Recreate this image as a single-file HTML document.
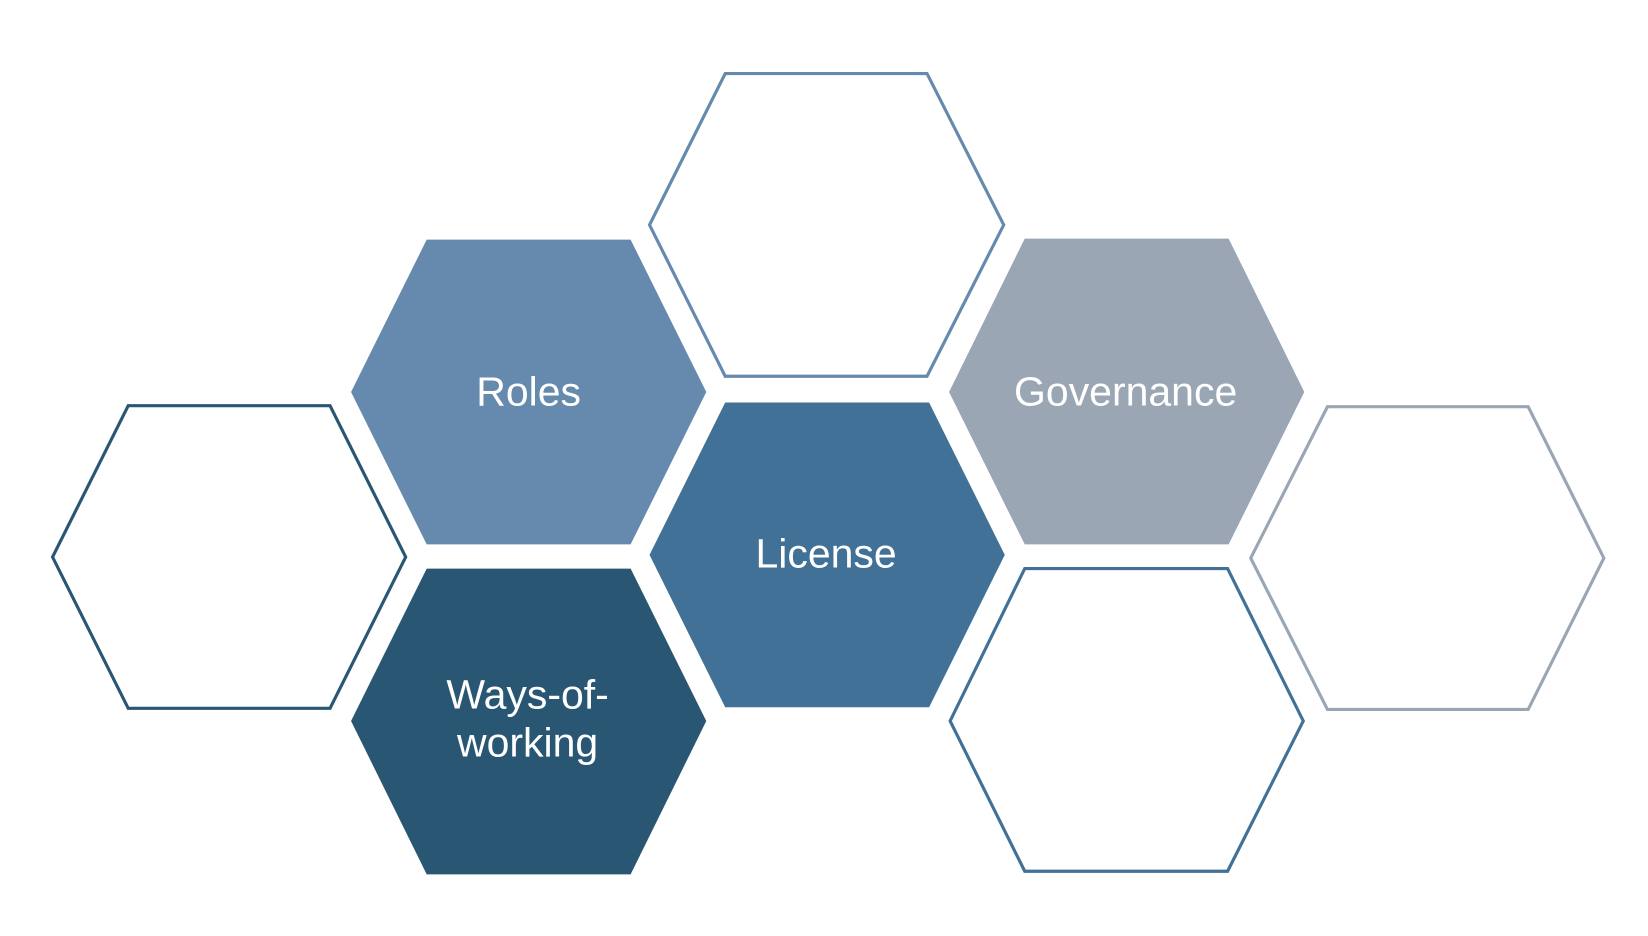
<!DOCTYPE html>
<html><head><meta charset="utf-8"><style>html,body{margin:0;padding:0;background:#fff;}svg{display:block}</style></head>
<body>
<svg width="1648" height="936" viewBox="0 0 1568 890.6" preserveAspectRatio="none" xmlns="http://www.w3.org/2000/svg">
<rect width="1568" height="891" fill="#fff"/>
<g stroke-width="3" fill="#fff">
<polygon points="690,70 882,70 955,214 882,358 690,358 618,214" stroke="#658aad"/>
<polygon points="122,386 314,386 386,530 314,674 122,674 50,530" stroke="#285673"/>
<polygon points="975,541 1168,541 1240,686 1168,829 975,829 904,686" stroke="#417196"/>
<polygon points="1263,387 1454,387 1526,531 1454,675 1263,675 1190,531" stroke="#9aa6b3"/>
</g>
<polygon points="406,228 600,228 672,373 600,518 406,518 334,373" fill="#658aad"/>
<polygon points="690,383 884,383 956,528 884,673 690,673 618,528" fill="#417196"/>
<polygon points="975,227 1169,227 1241,373 1169,518 975,518 903,373" fill="#9aa6b3"/>
<polygon points="406,541 600,541 672,686 600,832 406,832 334,686" fill="#285673"/>
<g font-family="Liberation Sans, sans-serif" font-size="39" fill="#fff" text-anchor="middle">
<text x="503" y="386">Roles</text>
<text x="786" y="540">License</text>
<text x="1071" y="386">Governance</text>
<text x="502" y="674">Ways-of-</text>
<text x="502" y="720">working</text>
</g>
</svg>
</body></html>
